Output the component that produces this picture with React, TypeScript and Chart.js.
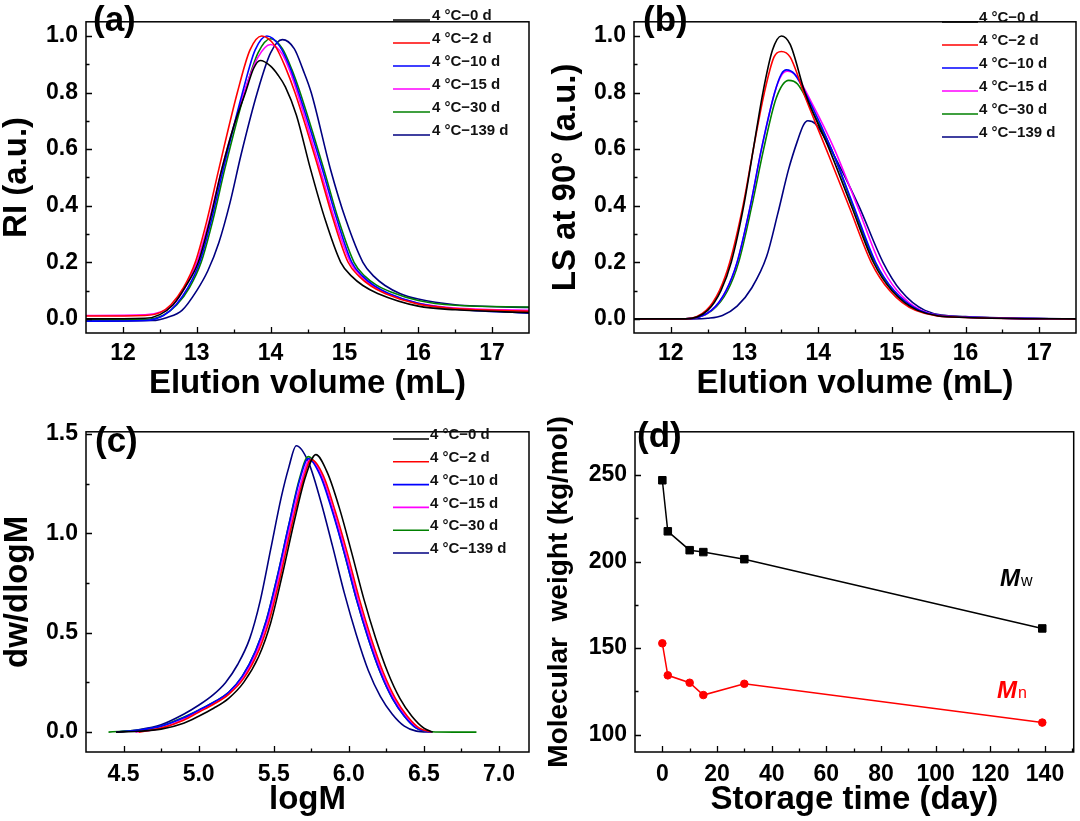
import React, { useEffect, useRef } from 'react';
import { Chart, registerables } from 'chart.js';
Chart.register(...registerables);

const FONT = '"Liberation Sans", Arial, Helvetica, sans-serif';

const seriesLabels = ['4 °C−0 d', '4 °C−2 d', '4 °C−10 d', '4 °C−15 d', '4 °C−30 d', '4 °C−139 d'];
const seriesColors = ['#000000', '#ff0000', '#0000ff', '#ff00ff', '#008000', '#000080'];

// ---------- Panel (a): RI vs elution volume ----------
const aX0 = [11.5, 12.3, 12.5, 12.68, 12.85, 13.02, 13.18, 13.34, 13.5, 13.66, 13.77, 13.86, 14.0, 14.1, 14.2, 14.35, 14.54, 14.74, 14.95, 15.1, 15.25, 15.45, 16.0, 16.5, 17.5];
const aY0 = [0.0, 0.002, 0.015, 0.05, 0.115, 0.2, 0.35, 0.53, 0.68, 0.8, 0.885, 0.913, 0.893, 0.862, 0.82, 0.72, 0.53, 0.35, 0.2, 0.15, 0.118, 0.09, 0.045, 0.032, 0.022];
const aX1 = [11.5, 12.3, 12.5, 12.65, 12.82, 12.98, 13.14, 13.3, 13.55, 13.72, 13.88, 14.06, 14.2, 14.33, 14.65, 14.85, 15.05, 15.2, 15.35, 15.55, 16.0, 16.5, 17.5];
const aY1 = [0.01, 0.012, 0.022, 0.05, 0.11, 0.2, 0.35, 0.53, 0.8, 0.95, 1.0, 0.965, 0.89, 0.8, 0.53, 0.35, 0.2, 0.15, 0.118, 0.09, 0.052, 0.036, 0.027];
const aX2 = [11.5, 12.3, 12.55, 12.72, 12.88, 13.04, 13.2, 13.36, 13.62, 13.79, 13.95, 14.12, 14.26, 14.38, 14.7, 14.9, 15.1, 15.25, 15.4, 15.6, 16.0, 16.5, 17.5];
const aY2 = [-0.008, -0.006, 0.012, 0.05, 0.11, 0.2, 0.35, 0.53, 0.8, 0.95, 1.0, 0.965, 0.89, 0.8, 0.53, 0.35, 0.2, 0.15, 0.118, 0.09, 0.055, 0.035, 0.02];
const aX3 = [11.5, 12.3, 12.52, 12.68, 12.84, 13.0, 13.17, 13.34, 13.64, 13.83, 14.0, 14.16, 14.27, 14.36, 14.67, 14.87, 15.08, 15.23, 15.38, 15.58, 16.0, 16.5, 17.5];
const aY3 = [0.012, 0.014, 0.025, 0.05, 0.11, 0.2, 0.35, 0.53, 0.8, 0.925, 0.97, 0.935, 0.87, 0.8, 0.53, 0.35, 0.2, 0.15, 0.118, 0.09, 0.055, 0.038, 0.03];
const aX4 = [11.5, 12.3, 12.56, 12.73, 12.9, 13.06, 13.22, 13.38, 13.65, 13.83, 14.0, 14.16, 14.29, 14.4, 14.72, 14.92, 15.13, 15.28, 15.43, 15.63, 16.0, 16.5, 17.5];
const aY4 = [-0.003, -0.002, 0.015, 0.05, 0.11, 0.2, 0.35, 0.53, 0.8, 0.94, 0.99, 0.955, 0.88, 0.8, 0.53, 0.35, 0.2, 0.15, 0.12, 0.095, 0.065, 0.048, 0.042];
const aX5 = [11.5, 12.4, 12.6, 12.8, 13.0, 13.15, 13.3, 13.45, 13.6, 13.82, 14.0, 14.16, 14.32, 14.44, 14.55, 14.81, 15.02, 15.25, 15.4, 15.55, 15.75, 16.0, 16.5, 17.5];
const aY5 = [-0.008, -0.006, 0.005, 0.03, 0.1, 0.17, 0.27, 0.41, 0.58, 0.8, 0.94, 0.987, 0.955, 0.88, 0.8, 0.53, 0.35, 0.2, 0.15, 0.118, 0.09, 0.07, 0.05, 0.04];

// ---------- Panel (b): LS at 90° vs elution volume ----------
const bX0 = [11.5, 12.2, 12.5, 12.68, 12.82, 12.99, 13.12, 13.25, 13.38, 13.5, 13.62, 13.82, 14.15, 14.45, 14.75, 15.0, 15.35, 16.0, 17.5];
const bY0 = [0, 0, 0.03, 0.1, 0.2, 0.4, 0.6, 0.8, 0.95, 1.0, 0.97, 0.8, 0.6, 0.4, 0.2, 0.1, 0.03, 0.005, 0];
const bX1 = [11.5, 12.2, 12.48, 12.66, 12.8, 12.98, 13.12, 13.27, 13.4, 13.5, 13.62, 13.83, 14.14, 14.43, 14.72, 14.97, 15.32, 16.0, 17.5];
const bY1 = [0, 0, 0.03, 0.1, 0.2, 0.4, 0.6, 0.8, 0.925, 0.945, 0.925, 0.78, 0.58, 0.39, 0.2, 0.1, 0.03, 0.005, 0];
const bX2 = [11.5, 12.2, 12.55, 12.75, 12.9, 13.08, 13.23, 13.41, 13.5, 13.57, 13.68, 13.9, 14.18, 14.48, 14.78, 15.03, 15.38, 16.0, 17.5];
const bY2 = [0, 0, 0.03, 0.1, 0.2, 0.4, 0.6, 0.8, 0.865, 0.88, 0.865, 0.76, 0.6, 0.4, 0.2, 0.1, 0.03, 0.006, 0];
const bX3 = [11.5, 12.2, 12.55, 12.75, 12.9, 13.08, 13.23, 13.41, 13.5, 13.58, 13.7, 13.92, 14.22, 14.53, 14.83, 15.07, 15.4, 16.0, 17.5];
const bY3 = [0, 0, 0.03, 0.1, 0.2, 0.4, 0.6, 0.8, 0.86, 0.875, 0.86, 0.76, 0.6, 0.4, 0.2, 0.1, 0.03, 0.006, 0];
const bX4 = [11.5, 12.2, 12.56, 12.77, 12.92, 13.1, 13.26, 13.43, 13.6, 13.72, 13.95, 14.18, 14.47, 14.77, 15.02, 15.38, 16.0, 17.5];
const bY4 = [0, 0, 0.03, 0.1, 0.2, 0.4, 0.6, 0.78, 0.843, 0.83, 0.72, 0.6, 0.4, 0.2, 0.1, 0.03, 0.006, 0];
const bX5 = [11.5, 12.3, 12.5, 12.7, 12.9, 13.1, 13.3, 13.45, 13.6, 13.72, 13.8, 13.86, 13.96, 14.17, 14.55, 14.88, 15.12, 15.45, 16.0, 17.5];
const bY5 = [0, 0, 0.002, 0.012, 0.045, 0.11, 0.22, 0.37, 0.53, 0.63, 0.685, 0.7, 0.69, 0.6, 0.4, 0.2, 0.1, 0.03, 0.008, 0];

// ---------- Panel (c): dw/dlogM vs logM ----------
const cX0 = [4.45, 4.6, 4.75, 4.9, 5.0, 5.1, 5.2, 5.3, 5.4, 5.48, 5.56, 5.64, 5.71, 5.78, 5.86, 5.94, 6.02, 6.1, 6.18, 6.26, 6.34, 6.42, 6.5, 6.56];
const cY0 = [0, 0.004, 0.015, 0.045, 0.08, 0.12, 0.17, 0.25, 0.38, 0.55, 0.8, 1.07, 1.28, 1.395, 1.3, 1.12, 0.9, 0.67, 0.47, 0.3, 0.17, 0.08, 0.02, 0];
const cX1 = [4.6, 4.75, 4.9, 5.0, 5.1, 5.2, 5.3, 5.4, 5.47, 5.54, 5.62, 5.69, 5.75, 5.83, 5.91, 5.99, 6.07, 6.15, 6.23, 6.31, 6.39, 6.47, 6.55];
const cY1 = [0, 0.02, 0.06, 0.1, 0.14, 0.19, 0.27, 0.41, 0.56, 0.77, 1.04, 1.25, 1.37, 1.29, 1.11, 0.9, 0.67, 0.47, 0.3, 0.17, 0.08, 0.02, 0];
const cX2 = [4.45, 4.6, 4.75, 4.9, 5.0, 5.1, 5.2, 5.29, 5.38, 5.45, 5.52, 5.6, 5.67, 5.73, 5.81, 5.89, 5.97, 6.05, 6.13, 6.21, 6.29, 6.37, 6.45, 6.55];
const cY2 = [0, 0.01, 0.03, 0.072, 0.11, 0.15, 0.2, 0.28, 0.41, 0.56, 0.77, 1.04, 1.26, 1.375, 1.29, 1.11, 0.9, 0.67, 0.47, 0.3, 0.17, 0.08, 0.02, 0];
const cX3 = [4.58, 4.75, 4.9, 5.0, 5.1, 5.2, 5.3, 5.39, 5.46, 5.53, 5.61, 5.68, 5.74, 5.82, 5.9, 5.98, 6.06, 6.14, 6.22, 6.3, 6.38, 6.46, 6.55];
const cY3 = [0, 0.02, 0.065, 0.105, 0.145, 0.195, 0.28, 0.41, 0.56, 0.77, 1.04, 1.25, 1.37, 1.29, 1.11, 0.9, 0.67, 0.47, 0.3, 0.17, 0.08, 0.02, 0];
const cX4 = [4.4, 4.6, 4.75, 4.9, 5.0, 5.1, 5.2, 5.29, 5.38, 5.45, 5.52, 5.6, 5.67, 5.73, 5.81, 5.89, 5.97, 6.05, 6.13, 6.21, 6.29, 6.37, 6.45, 6.55, 6.7, 6.85];
const cY4 = [0, 0.01, 0.03, 0.075, 0.11, 0.15, 0.2, 0.28, 0.41, 0.56, 0.77, 1.04, 1.27, 1.385, 1.3, 1.12, 0.9, 0.67, 0.47, 0.3, 0.17, 0.08, 0.02, 0.002, 0, 0];
const cX5 = [4.45, 4.6, 4.75, 4.9, 5.0, 5.1, 5.18, 5.26, 5.34, 5.41, 5.48, 5.55, 5.6, 5.65, 5.73, 5.81, 5.89, 5.97, 6.05, 6.13, 6.21, 6.29, 6.37, 6.45, 6.55];
const cY5 = [0, 0.012, 0.037, 0.09, 0.135, 0.19, 0.25, 0.34, 0.47, 0.66, 0.92, 1.18, 1.33, 1.44, 1.36, 1.17, 0.94, 0.7, 0.49, 0.31, 0.18, 0.09, 0.03, 0.005, 0];

// ---------- Panel (d): molecular weight vs storage time ----------
const dDays = [0, 2, 10, 15, 30, 139];
const dMw = [247, 217.5, 206.6, 205.5, 201.4, 161.4];
const dMn = [152.8, 134.3, 130, 122.9, 129.4, 107];

// ---------- Tick labels ----------
const elutionTicks = [12, 13, 14, 15, 16, 17];
const intensityTicks = [0, 0.2, 0.4, 0.6, 0.8, 1.0];
const logMTicks = [4.5, 5.0, 5.5, 6.0, 6.5, 7.0];
const dwTicks = [0, 0.5, 1.0, 1.5];
const dayTicks = [0, 20, 40, 60, 80, 100, 120, 140];
const mwTicks = [100, 150, 200, 250];

const pts = (xs: number[], ys: number[]) => xs.map((x, i) => ({ x, y: ys[i] }));

const curveSets = (xs: number[][], ys: number[][]) =>
  xs.map((x, i) => ({
    label: seriesLabels[i],
    data: pts(x, ys[i]),
    borderColor: seriesColors[i],
    backgroundColor: seriesColors[i],
    borderWidth: 1.6,
    pointRadius: 0,
    cubicInterpolationMode: 'monotone',
    fill: false,
  }));

function makeDecor(cfg: any) {
  return {
    id: 'decor',
    afterDatasetsDraw(chart: any) {
      const ctx = chart.ctx;
      const ca = chart.chartArea;
      const xs = chart.scales.x;
      const ys = chart.scales.y;
      ctx.save();
      ctx.strokeStyle = '#000';
      ctx.lineWidth = 1.5;
      ctx.strokeRect(ca.left, ca.top, ca.right - ca.left, ca.bottom - ca.top);
      const tickList = (majors: number[], min: number, max: number) => {
        const step = majors[1] - majors[0];
        const out: { v: number; major: boolean }[] = [];
        for (let k = -4; k < 60; k++) {
          const v = majors[0] + (k * step) / 2;
          if (v <= min + 1e-6 || v >= max - 1e-6) continue;
          out.push({ v, major: k % 2 === 0 });
        }
        return out;
      };
      ctx.lineWidth = 1.3;
      ctx.beginPath();
      for (const t of tickList(cfg.xTicks, cfg.xMin, cfg.xMax)) {
        const px = Math.round(xs.getPixelForValue(t.v)) + 0.5;
        const len = t.major ? 6 : 3.5;
        ctx.moveTo(px, ca.bottom);
        ctx.lineTo(px, ca.bottom - len);
      }
      for (const t of tickList(cfg.yTicks, cfg.yMin, cfg.yMax)) {
        const py = Math.round(ys.getPixelForValue(t.v)) + 0.5;
        const len = t.major ? 6 : 3.5;
        ctx.moveTo(ca.left, py);
        ctx.lineTo(ca.left + len, py);
      }
      ctx.stroke();

      ctx.fillStyle = '#000';
      ctx.font = `bold 35px ${FONT}`;
      ctx.textAlign = 'left';
      ctx.textBaseline = 'middle';
      ctx.fillText(cfg.label, cfg.labelX, cfg.labelY);

      if (cfg.legend) {
        const lg = cfg.legend;
        chart.data.datasets.forEach((ds: any, i: number) => {
          const y = lg.y0 + i * lg.dy;
          ctx.strokeStyle = ds.borderColor;
          ctx.lineWidth = 1.6;
          ctx.beginPath();
          ctx.moveTo(lg.lx0, y + 4);
          ctx.lineTo(lg.lx1, y + 4);
          ctx.stroke();
          ctx.fillStyle = '#111';
          ctx.font = `bold 15px ${FONT}`;
          ctx.textBaseline = 'middle';
          ctx.fillText(ds.label, lg.tx, y);
        });
      }
      if (cfg.notes) {
        for (const n of cfg.notes) {
          ctx.fillStyle = n.color;
          ctx.textBaseline = 'alphabetic';
          ctx.font = `italic bold 24px ${FONT}`;
          ctx.fillText(n.main, n.x, n.y);
          const w = ctx.measureText(n.main).width;
          ctx.font = `16px ${FONT}`;
          ctx.fillText(n.sub, n.x + w + 1, n.y);
        }
      }
      ctx.restore();
    },
  };
}

function buildConfig(cfg: any) {
  const tickFont = { family: FONT, size: 23, weight: 'bold' };
  return {
    type: 'line',
    data: { datasets: cfg.datasets },
    options: {
      responsive: false,
      animation: false,
      events: [],
      layout: { padding: { top: cfg.padTop, right: cfg.padRight, left: 0, bottom: 0 } },
      plugins: { legend: { display: false }, tooltip: { enabled: false } },
      scales: {
        x: {
          type: 'linear',
          min: cfg.xMin,
          max: cfg.xMax,
          grid: { display: false, drawTicks: false },
          border: { display: false },
          ticks: {
            font: tickFont,
            color: '#000',
            padding: cfg.xTickPad,
            autoSkip: false,
            maxRotation: 0,
            callback: (v: any) => Number(v).toFixed(cfg.xDec),
          },
          afterBuildTicks: (s: any) => {
            s.ticks = cfg.xTicks.map((v: number) => ({ value: v }));
          },
          afterFit: (s: any) => {
            s.height = cfg.xAxisH;
          },
          title: {
            display: true,
            text: cfg.xTitle,
            color: '#000',
            font: { family: FONT, size: 33, weight: 'bold', lineHeight: 1 },
            padding: { top: 0, bottom: cfg.xTitlePad },
          },
        },
        y: {
          type: 'linear',
          min: cfg.yMin,
          max: cfg.yMax,
          grid: { display: false, drawTicks: false },
          border: { display: false },
          ticks: {
            font: tickFont,
            color: '#000',
            padding: 8,
            autoSkip: false,
            callback: (v: any) => Number(v).toFixed(cfg.yDec),
          },
          afterBuildTicks: (s: any) => {
            s.ticks = cfg.yTicks.map((v: number) => ({ value: v }));
          },
          afterFit: (s: any) => {
            s.width = cfg.yAxisW;
          },
          title: {
            display: true,
            text: cfg.yTitle,
            color: '#000',
            font: { family: FONT, size: cfg.yTitleSize, weight: 'bold', lineHeight: 1 },
            padding: { top: cfg.yTitlePad, bottom: 0 },
          },
        },
      },
    },
    plugins: [makeDecor(cfg)],
  };
}

const panelA = {
  left: 0, top: 0, w: 540, h: 410,
  padTop: 4, padRight: 11, yAxisW: 86, xAxisH: 77,
  xMin: 11.5, xMax: 17.5, yMin: -0.05, yMax: 1.05,
  xTicks: elutionTicks, yTicks: intensityTicks, xDec: 0, yDec: 1,
  xTickPad: 7, xTitle: 'Elution volume (mL)', xTitlePad: 9.5,
  yTitle: 'RI (a.u.)', yTitleSize: 33, yTitlePad: 0.5,
  label: '(a)', labelX: 93, labelY: 21,
  legend: { lx0: 393, lx1: 430, tx: 432, y0: 16, dy: 23 },
  datasets: curveSets([aX0, aX1, aX2, aX3, aX4, aX5], [aY0, aY1, aY2, aY3, aY4, aY5]),
};

const panelB = {
  left: 540, top: 0, w: 540, h: 410,
  padTop: 4, padRight: 4, yAxisW: 94, xAxisH: 77,
  xMin: 11.5, xMax: 17.5, yMin: -0.05, yMax: 1.05,
  xTicks: elutionTicks, yTicks: intensityTicks, xDec: 0, yDec: 1,
  xTickPad: 7, xTitle: 'Elution volume (mL)', xTitlePad: 9.5,
  yTitle: 'LS at 90° (a.u.)', yTitleSize: 33, yTitlePad: 9.5,
  label: '(b)', labelX: 103, labelY: 21,
  legend: { lx0: 402, lx1: 438, tx: 439, y0: 18, dy: 23 },
  datasets: curveSets([bX0, bX1, bX2, bX3, bX4, bX5], [bY0, bY1, bY2, bY3, bY4, bY5]),
};

const panelC = {
  left: 0, top: 410, w: 540, h: 411,
  padTop: 13, padRight: 11, yAxisW: 86, xAxisH: 69,
  xMin: 4.25, xMax: 7.2, yMin: -0.1, yMax: 1.51,
  xTicks: logMTicks, yTicks: dwTicks, xDec: 1, yDec: 1,
  xTickPad: 9, xTitle: 'logM', xTitlePad: 4.5,
  yTitle: 'dw/dlogM', yTitleSize: 33, yTitlePad: 1.5,
  label: '(c)', labelX: 95, labelY: 32,
  legend: { lx0: 393, lx1: 429, tx: 430, y0: 25, dy: 22.8 },
  datasets: curveSets([cX0, cX1, cX2, cX3, cX4, cX5], [cY0, cY1, cY2, cY3, cY4, cY5]),
};

const panelD = {
  left: 540, top: 410, w: 540, h: 411,
  padTop: 13, padRight: 3, yAxisW: 95, xAxisH: 69,
  xMin: -10, xMax: 150.5, yMin: 90, yMax: 275,
  xTicks: dayTicks, yTicks: mwTicks, xDec: 0, yDec: 0,
  xTickPad: 9, xTitle: 'Storage time (day)', xTitlePad: 4.5,
  yTitle: 'Molecular  weight (kg/mol)', yTitleSize: 28, yTitlePad: 5,
  label: '(d)', labelX: 97, labelY: 27,
  notes: [
    { main: 'M', sub: 'w', x: 460, y: 176, color: '#000' },
    { main: 'M', sub: 'n', x: 457, y: 288, color: '#ff0000' },
  ],
  datasets: [
    {
      label: 'Mw',
      data: pts(dDays, dMw),
      borderColor: '#000',
      backgroundColor: '#000',
      borderWidth: 1.5,
      pointStyle: 'rect',
      pointRadius: 5.3,
      pointBorderWidth: 1,
      tension: 0,
    },
    {
      label: 'Mn',
      data: pts(dDays, dMn),
      borderColor: '#ff0000',
      backgroundColor: '#ff0000',
      borderWidth: 1.5,
      pointStyle: 'circle',
      pointRadius: 3.8,
      pointBorderWidth: 1,
      tension: 0,
    },
  ],
};

function Panel({ cfg }: { cfg: any }) {
  const ref = useRef<HTMLCanvasElement>(null);
  useEffect(() => {
    const chart = new Chart(ref.current as HTMLCanvasElement, buildConfig(cfg) as any);
    return () => chart.destroy();
  }, [cfg]);
  return (
    <canvas
      ref={ref}
      width={cfg.w}
      height={cfg.h}
      style={{ position: 'absolute', left: cfg.left, top: cfg.top, width: cfg.w, height: cfg.h }}
    />
  );
}

export default function App() {
  return (
    <div style={{ position: 'absolute', left: 0, top: 0, width: 1080, height: 821, background: '#fff' }}>
      <Panel cfg={panelA} />
      <Panel cfg={panelB} />
      <Panel cfg={panelC} />
      <Panel cfg={panelD} />
    </div>
  );
}
